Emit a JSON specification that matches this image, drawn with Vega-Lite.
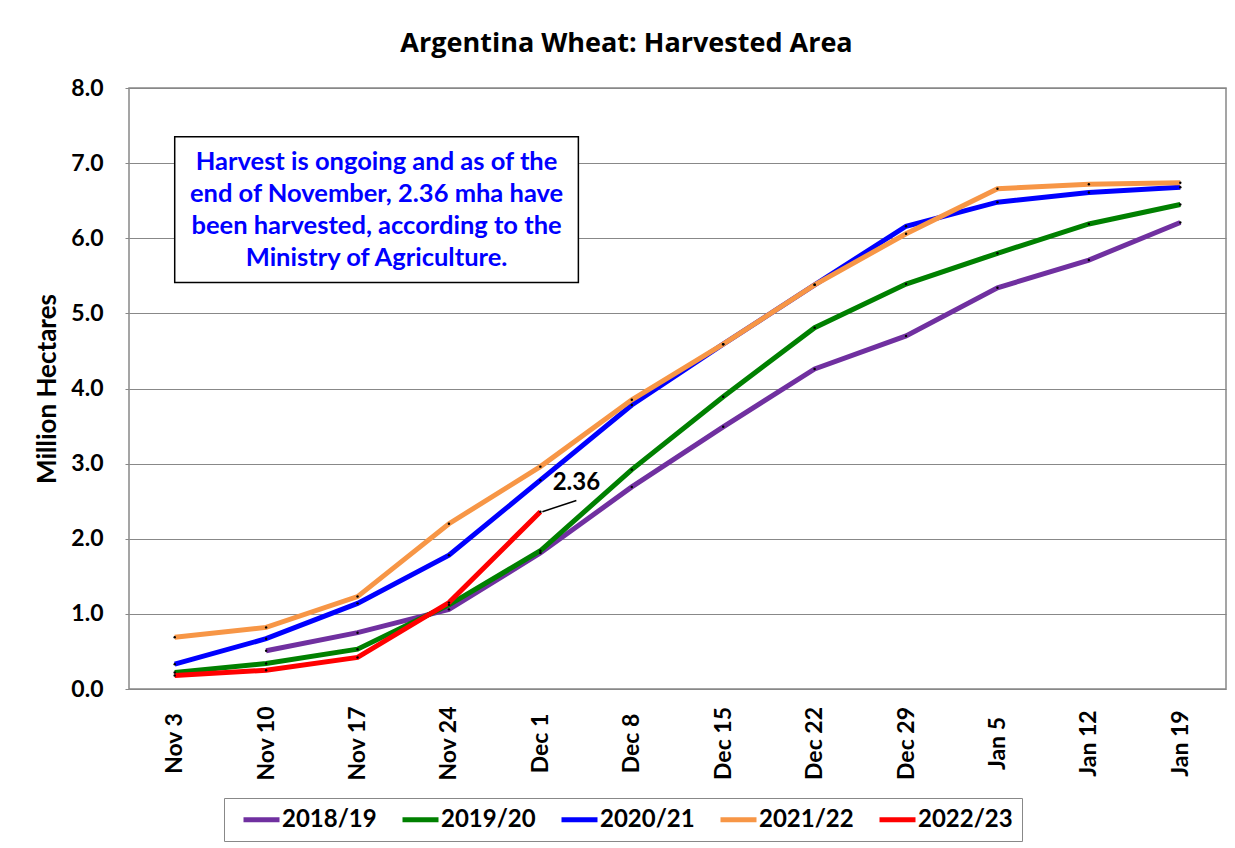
{
  "$schema": "https://vega.github.io/schema/vega-lite/v6.json",
  "width": 1097,
  "height": 601,
  "padding": {"left": 34, "top": 30, "right": 10, "bottom": 5},
  "background": "white",
  "title": {
    "text": "Argentina Wheat: Harvested Area",
    "font": "Open Sans",
    "fontSize": 27,
    "fontWeight": "bold",
    "color": "black",
    "anchor": "middle",
    "dx": -51,
    "offset": 19
  },
  "datasets": {
    "main": [
      {"week": "Nov 10", "season": "2018/19", "value": 0.51},
      {"week": "Nov 17", "season": "2018/19", "value": 0.75},
      {"week": "Nov 24", "season": "2018/19", "value": 1.06},
      {"week": "Dec 1", "season": "2018/19", "value": 1.81},
      {"week": "Dec 8", "season": "2018/19", "value": 2.69},
      {"week": "Dec 15", "season": "2018/19", "value": 3.49},
      {"week": "Dec 22", "season": "2018/19", "value": 4.26},
      {"week": "Dec 29", "season": "2018/19", "value": 4.70},
      {"week": "Jan 5", "season": "2018/19", "value": 5.34},
      {"week": "Jan 12", "season": "2018/19", "value": 5.71},
      {"week": "Jan 19", "season": "2018/19", "value": 6.21},
      {"week": "Nov 3", "season": "2019/20", "value": 0.22},
      {"week": "Nov 10", "season": "2019/20", "value": 0.34},
      {"week": "Nov 17", "season": "2019/20", "value": 0.53},
      {"week": "Nov 24", "season": "2019/20", "value": 1.12},
      {"week": "Dec 1", "season": "2019/20", "value": 1.84},
      {"week": "Dec 8", "season": "2019/20", "value": 2.92},
      {"week": "Dec 15", "season": "2019/20", "value": 3.89},
      {"week": "Dec 22", "season": "2019/20", "value": 4.81},
      {"week": "Dec 29", "season": "2019/20", "value": 5.39},
      {"week": "Jan 5", "season": "2019/20", "value": 5.80},
      {"week": "Jan 12", "season": "2019/20", "value": 6.19},
      {"week": "Jan 19", "season": "2019/20", "value": 6.45},
      {"week": "Nov 3", "season": "2020/21", "value": 0.33},
      {"week": "Nov 10", "season": "2020/21", "value": 0.67},
      {"week": "Nov 17", "season": "2020/21", "value": 1.14},
      {"week": "Nov 24", "season": "2020/21", "value": 1.78},
      {"week": "Dec 1", "season": "2020/21", "value": 2.78},
      {"week": "Dec 8", "season": "2020/21", "value": 3.78},
      {"week": "Dec 15", "season": "2020/21", "value": 4.59},
      {"week": "Dec 22", "season": "2020/21", "value": 5.38},
      {"week": "Dec 29", "season": "2020/21", "value": 6.16},
      {"week": "Jan 5", "season": "2020/21", "value": 6.48},
      {"week": "Jan 12", "season": "2020/21", "value": 6.61},
      {"week": "Jan 19", "season": "2020/21", "value": 6.68},
      {"week": "Nov 3", "season": "2021/22", "value": 0.69},
      {"week": "Nov 10", "season": "2021/22", "value": 0.82},
      {"week": "Nov 17", "season": "2021/22", "value": 1.23},
      {"week": "Nov 24", "season": "2021/22", "value": 2.20},
      {"week": "Dec 1", "season": "2021/22", "value": 2.96},
      {"week": "Dec 8", "season": "2021/22", "value": 3.85},
      {"week": "Dec 15", "season": "2021/22", "value": 4.59},
      {"week": "Dec 22", "season": "2021/22", "value": 5.38},
      {"week": "Dec 29", "season": "2021/22", "value": 6.06},
      {"week": "Jan 5", "season": "2021/22", "value": 6.66},
      {"week": "Jan 12", "season": "2021/22", "value": 6.72},
      {"week": "Jan 19", "season": "2021/22", "value": 6.74},
      {"week": "Nov 3", "season": "2022/23", "value": 0.18},
      {"week": "Nov 10", "season": "2022/23", "value": 0.25},
      {"week": "Nov 17", "season": "2022/23", "value": 0.42},
      {"week": "Nov 24", "season": "2022/23", "value": 1.15},
      {"week": "Dec 1", "season": "2022/23", "value": 2.36}
    ]
  },
  "layer": [
    {
      "data": {"name": "main"},
      "mark": {"type": "line", "strokeWidth": 5},
      "encoding": {
        "x": {
          "field": "week",
          "type": "ordinal",
          "sort": null,
          "scale": {"type": "point", "padding": 0.5, "domain": ["Nov 3", "Nov 10", "Nov 17", "Nov 24", "Dec 1", "Dec 8", "Dec 15", "Dec 22", "Dec 29", "Jan 5", "Jan 12", "Jan 19"]},
          "axis": {
            "title": null,
            "labelAngle": -90,
            "labelAlign": "center",
            "labelBaseline": "middle",
            "labelFont": "Lato",
            "labelFontSize": 23,
            "labelFontWeight": "bold",
            "labelColor": "black",
            "labelPadding": 54,
            "ticks": false,
            "domain": false,
            "grid": false
          }
        },
        "y": {
          "field": "value",
          "type": "quantitative",
          "scale": {"domain": [0, 8], "nice": false, "zero": true},
          "axis": {
            "title": "Million Hectares",
            "titleFont": "Lato",
            "titleFontSize": 26,
            "titleFontWeight": "bold",
            "titleColor": "black",
            "titlePadding": 10,
            "values": [0, 1, 2, 3, 4, 5, 6, 7, 8],
            "format": ".1f",
            "labelFont": "Lato",
            "labelFontSize": 23,
            "labelFontWeight": "bold",
            "labelColor": "black",
            "labelPadding": 22,
            "tickSize": 4,
            "tickColor": "#888888",
            "domain": false,
            "grid": true,
            "gridColor": "#888888",
            "gridWidth": 1
          }
        },
        "color": {
          "field": "season",
          "type": "nominal",
          "scale": {
            "domain": ["2018/19", "2019/20", "2020/21", "2021/22", "2022/23"],
            "range": ["#7030A0", "#008000", "#0000FF", "#F79646", "#FF0000"]
          },
          "legend": {
            "title": null,
            "orient": "none",
            "direction": "horizontal",
            "legendX": 95,
            "legendY": 710,
            "symbolType": "M-1.8,0H1.8",
            "symbolStrokeWidth": 5,
            "symbolSize": 400,
            "symbolOffset": 16,
            "labelFont": "Lato",
            "labelFontSize": 24,
            "labelFontWeight": "bold",
            "labelColor": "black",
            "labelOffset": 8,
            "columnPadding": 15,
            "padding": 9,
            "strokeColor": "#888888",
            "fillColor": "white"
          }
        }
      }
    },
    {
      "data": {"name": "main"},
      "mark": {"type": "point", "filled": true, "color": "black", "size": 6, "opacity": 1},
      "encoding": {
        "x": {"field": "week", "type": "ordinal"},
        "y": {"field": "value", "type": "quantitative"}
      }
    },
    {
      "data": {"values": [{"label": "note"}]},
      "mark": {"type": "rect", "fill": "white", "stroke": "black", "strokeWidth": 1.5, "x2Offset": 38},
      "encoding": {
        "x": {"datum": "Nov 3", "type": "ordinal"},
        "x2": {"datum": "Dec 1"},
        "y": {"datum": 7.35, "type": "quantitative"},
        "y2": {"datum": 5.41}
      }
    },
    {
      "data": {"values": [{"note": ["Harvest is ongoing and as of the", "end of November, 2.36 mha have", "been harvested, according to the", "Ministry of Agriculture."]}]},
      "mark": {"type": "text", "font": "Lato", "fontSize": 25.5, "fontWeight": "bold", "color": "#0000FF", "align": "center", "baseline": "middle", "lineHeight": 32, "dx": 19},
      "encoding": {
        "x": {"datum": "Nov 17", "type": "ordinal"},
        "y": {"datum": 7.02, "type": "quantitative"},
        "text": {"field": "note", "type": "nominal"}
      }
    },
    {
      "data": {"name": "main"},
      "transform": [{"filter": "datum.season == '2022/23' && datum.week == 'Dec 1'"}],
      "mark": {"type": "rule", "color": "black", "strokeWidth": 1.5, "xOffset": 2, "x2Offset": 36},
      "encoding": {
        "x": {"field": "week", "type": "ordinal"},
        "y": {"field": "value", "type": "quantitative"},
        "x2": {"field": "week"},
        "y2": {"datum": 2.51}
      }
    },
    {
      "data": {"name": "main"},
      "transform": [{"filter": "datum.season == '2022/23' && datum.week == 'Dec 1'"}],
      "mark": {"type": "text", "font": "Lato", "fontSize": 24, "fontWeight": "bold", "color": "black", "align": "center", "baseline": "middle", "dx": 36, "dy": -29},
      "encoding": {
        "x": {"field": "week", "type": "ordinal"},
        "y": {"field": "value", "type": "quantitative"},
        "text": {"field": "value", "type": "quantitative", "format": ".2f"}
      }
    }
  ],
  "config": {
    "view": {"stroke": "#888888", "strokeWidth": 1.5}
  }
}
